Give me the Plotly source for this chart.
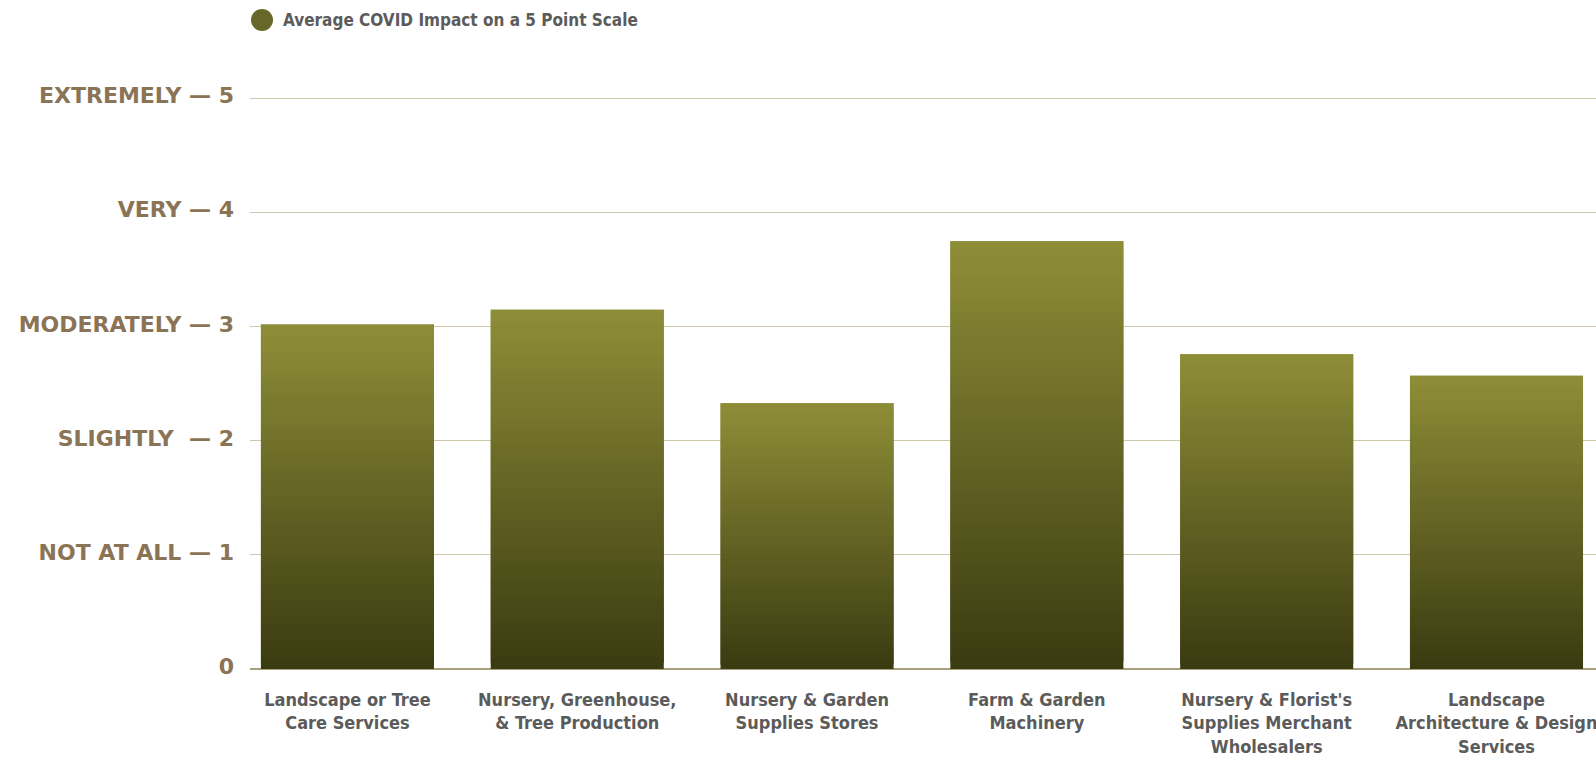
import plotly.graph_objects as go

# Industry segments and their average impact rating (1-5 scale)
categories = [
    "Landscape or Tree Care Services",
    "Nursery, Greenhouse, & Tree Production",
    "Nursery & Garden Supplies Stores",
    "Farm & Garden Machinery",
    "Nursery & Florist's Supplies Merchant Wholesalers",
    "Landscape Architecture & Design Services",
]
category_labels = [
    "Landscape or Tree<br>Care Services",
    "Nursery, Greenhouse,<br>& Tree Production",
    "Nursery & Garden<br>Supplies Stores",
    "Farm & Garden<br>Machinery",
    "Nursery & Florist's<br>Supplies Merchant<br>Wholesalers",
    "Landscape<br>Architecture & Design<br>Services",
]
impact = [3.02, 3.15, 2.33, 3.75, 2.76, 2.57]

scale_values = [0, 1, 2, 3, 4, 5]
scale_labels = [
    "0",
    "NOT AT ALL — 1",
    "SLIGHTLY\u00a0 — 2",
    "MODERATELY — 3",
    "VERY — 4",
    "EXTREMELY — 5",
]
series_name = "Average COVID Impact on a 5 Point Scale"

W, H = 1596, 768
M_L, M_R, M_T, M_B = 250, 0, 93, 99
PLOT_W = W - M_L - M_R
PLOT_H = H - M_T - M_B

TOP_RGB = (142, 142, 56)
BOTTOM_RGB = (58, 58, 17)
N_SHADES = 60
BAR_WIDTH = 0.753


def blend(t):
    r, g, b = (round(lo + (hi - lo) * t) for lo, hi in zip(BOTTOM_RGB, TOP_RGB))
    return f"rgb({r},{g},{b})"


fig = go.Figure()

# Each bar is shaded dark at the base to light olive at the top, relative to
# its own height: each band overlaps the next one up so no seams show.
for k in range(N_SHADES):
    lo = k / N_SHADES
    hi = min(k + 2, N_SHADES) / N_SHADES
    fig.add_bar(
        x=categories,
        y=[v * (hi - lo) for v in impact],
        base=[v * lo for v in impact],
        width=BAR_WIDTH,
        marker=dict(color=blend((k + 0.5) / N_SHADES), line=dict(width=0)),
        showlegend=False,
        hoverinfo="skip" if k < N_SHADES - 1 else None,
        customdata=impact,
        hovertemplate="%{x}: %{customdata}<extra></extra>",
        name=series_name,
    )

label_font = "Liberation Sans Narrow, DejaVu Sans Condensed, Arial Narrow, sans-serif"

fig.update_layout(
    width=W,
    height=H,
    margin=dict(l=M_L, r=M_R, t=M_T, b=M_B, pad=0),
    paper_bgcolor="white",
    plot_bgcolor="white",
    barmode="overlay",
    showlegend=False,
    hovermode="closest",
    xaxis=dict(
        type="category",
        categoryorder="array",
        categoryarray=categories,
        tickvals=categories,
        ticktext=category_labels,
        range=[-0.424, 5.433],
        showgrid=False,
        showline=False,
        zeroline=False,
        ticks="",
        ticklabelstandoff=18,
        tickfont=dict(family=label_font, size=18, color="#5b5b5b", weight="bold"),
    ),
    yaxis=dict(
        range=[0, 5.05],
        tickvals=scale_values,
        ticktext=scale_labels,
        showgrid=True,
        gridcolor="#cfc7aa",
        gridwidth=1,
        zeroline=True,
        zerolinecolor="#a89f7f",
        zerolinewidth=2,
        showline=False,
        ticks="",
        ticklabelstandoff=15,
        ticklabelshift=-3,
        tickfont=dict(family="DejaVu Sans", size=22, color="#8b7355", weight="bold"),
    ),
)

# Series key above the plot
key_x = (262 - M_L) / PLOT_W
key_y = (M_T + PLOT_H - 20) / PLOT_H
fig.add_shape(
    type="circle",
    xref="paper",
    yref="paper",
    xsizemode="pixel",
    ysizemode="pixel",
    xanchor=key_x,
    yanchor=key_y,
    x0=-11,
    x1=11,
    y0=-11,
    y1=11,
    fillcolor="#67672a",
    line=dict(width=0),
)
fig.add_annotation(
    text=series_name,
    xref="paper",
    yref="paper",
    x=(281 - M_L) / PLOT_W,
    y=key_y,
    xanchor="left",
    yanchor="middle",
    showarrow=False,
    font=dict(family=label_font, size=17, color="#5b5b5b", weight="bold"),
)

fig.write_html("out.html")
